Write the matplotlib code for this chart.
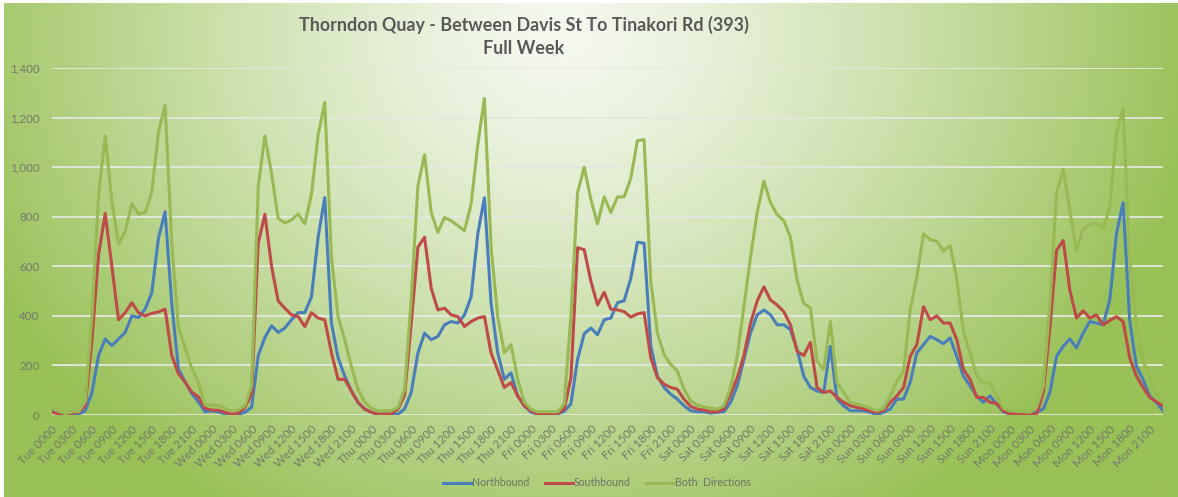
import matplotlib.pyplot as plt
import numpy as np
from matplotlib.colors import to_rgb

plt.rcParams['font.family'] = ['Lato', 'DejaVu Sans']

days = ['Tue', 'Wed', 'Thu', 'Fri', 'Sat', 'Sun', 'Mon']
hours = ['%02d00' % h for h in range(24)]
categories = ['%s %s' % (d, h) for d in days for h in hours]

# hourly vehicle counts, Tue 0000 .. Mon 2300
northbound = [
    17, 10, 5, 5, 3, 17, 90, 240, 307, 280, 307, 333, 400, 393, 427, 493, 713, 820, 450, 187, 133, 87, 53, 13,
    17, 12, 5, 3, 3, 11, 31, 240, 313, 360, 333, 351, 384, 413, 413, 477, 717, 877, 371, 231, 157, 97, 51, 24,
    11, 3, 3, 3, 3, 24, 91, 250, 330, 304, 317, 364, 377, 371, 404, 477, 731, 877, 450, 250, 144, 170, 77, 37,
    11, 3, 3, 3, 5, 15, 45, 224, 328, 351, 324, 384, 391, 453, 461, 551, 697, 693, 280, 157, 111, 84, 64, 37,
    17, 13, 13, 8, 11, 13, 51, 117, 224, 331, 404, 424, 404, 364, 364, 344, 264, 157, 111, 97, 91, 277, 64, 37,
    17, 17, 17, 11, 0, 11, 24, 64, 64, 131, 251, 284, 317, 304, 288, 311, 237, 157, 117, 77, 51, 77, 44, 13,
    4, 4, 4, 4, 11, 24, 91, 237, 277, 307, 271, 331, 377, 371, 364, 464, 731, 857, 380, 197, 144, 77, 51, 17,
]
southbound = [
    11, 5, 1, 8, 11, 38, 300, 647, 813, 600, 384, 413, 453, 413, 400, 410, 416, 427, 240, 167, 133, 93, 73, 27,
    20, 19, 11, 3, 7, 31, 85, 693, 810, 600, 460, 431, 404, 397, 357, 413, 391, 384, 251, 144, 144, 97, 51, 24,
    11, 4, 4, 5, 24, 80, 370, 677, 717, 511, 424, 431, 404, 397, 357, 377, 391, 397, 250, 180, 111, 131, 77, 37,
    17, 4, 4, 4, 7, 24, 150, 675, 667, 540, 444, 495, 427, 424, 417, 395, 408, 413, 231, 151, 124, 111, 104, 64,
    35, 24, 20, 13, 13, 24, 85, 150, 240, 370, 460, 517, 464, 444, 417, 364, 257, 240, 293, 111, 91, 97, 71, 51,
    37, 31, 24, 17, 11, 17, 51, 77, 111, 237, 284, 437, 384, 400, 371, 371, 304, 184, 144, 71, 71, 51, 47, 17,
    4, 4, 4, 4, 4, 91, 350, 664, 704, 504, 391, 421, 391, 404, 364, 381, 397, 377, 231, 157, 111, 71, 53, 37,
]
both_directions = [
    28, 15, 6, 13, 14, 55, 400, 887, 1126, 860, 690, 740, 853, 810, 817, 900, 1140, 1250, 690, 355, 270, 190, 130, 40,
    40, 38, 27, 17, 21, 38, 118, 920, 1126, 975, 793, 775, 787, 811, 771, 890, 1130, 1261, 637, 397, 304, 197, 104, 51,
    27, 17, 17, 17, 31, 104, 470, 924, 1050, 817, 737, 797, 784, 764, 744, 851, 1091, 1277, 677, 397, 251, 284, 144, 51,
    24, 13, 13, 13, 13, 45, 400, 897, 1000, 870, 771, 880, 817, 880, 880, 955, 1107, 1111, 540, 331, 244, 204, 177, 104,
    57, 40, 33, 27, 24, 37, 111, 237, 437, 637, 817, 944, 857, 808, 784, 717, 544, 451, 431, 217, 184, 377, 131, 91,
    51, 44, 37, 27, 17, 27, 77, 137, 177, 424, 557, 731, 707, 701, 661, 684, 551, 337, 251, 157, 131, 128, 77, 27,
    17, 15, 13, 11, 31, 117, 450, 897, 991, 824, 664, 751, 768, 773, 751, 837, 1137, 1237, 624, 357, 224, 144, 91, 50,
]

W, H = 1178, 497
fig = plt.figure(figsize=(W / 100, H / 100), dpi=100)
fig.patch.set_facecolor('white')

# radial green gradient behind the chart
bg = fig.add_axes([4 / W, 0, 1 - 4 / W, 1 - 3 / H], zorder=-2)
yy, xx = np.mgrid[0:H, 0:W]
d = np.sqrt(((xx - 560) / 640.0) ** 2 + ((yy - 30) / 560.0) ** 2)
t = np.clip(d, 0, 1)[..., None] ** 1.3
inner = np.array(to_rgb('#f5f9ef'))
outer = np.array(to_rgb('#98c157'))
bg.imshow(inner * (1 - t) + outer * t, aspect='auto', extent=[0, 1, 0, 1])
bg.axis('off')

ax = fig.add_axes([52 / W, 1 - 415 / H, (1163 - 52) / W, (415 - 68) / H])
ax.patch.set_alpha(0)
x = np.arange(len(categories))

ax.plot(x, northbound, color='#4a7ebb', lw=2.2, label='Northbound', zorder=3)
ax.plot(x, southbound, color='#be4b48', lw=2.2, label='Southbound', zorder=3)
ax.plot(x, both_directions, color='#98b954', lw=2.2, label='Both  Directions', zorder=3)

ax.set_xlim(0, len(categories) - 1)
ax.set_ylim(0, 1400)
ax.set_yticks(range(0, 1401, 200))
ax.set_yticklabels(['{:,}'.format(v) for v in range(0, 1401, 200)])
ax.grid(axis='y', color='#e4e8e0', lw=1.3, zorder=1)
ax.set_axisbelow(True)
for s in ax.spines.values():
    s.set_visible(False)
ax.tick_params(axis='both', length=0, colors='#737a6a', labelsize=8.3)
ax.tick_params(axis='y', pad=9)

ax.set_xticks(x[::3])
ax.set_xticklabels(categories[::3], rotation=45, ha='right', va='top',
                   rotation_mode='anchor', fontsize=8.3)
ax.tick_params(axis='x', pad=6)

fig.text(524 / W, 1 - 25 / H, 'Thorndon Quay - Between Davis St To Tinakori Rd (393)',
         ha='center', va='center', fontsize=12.9, fontweight='bold', color='#595959')
fig.text(524 / W, 1 - 48 / H, 'Full Week', ha='center', va='center',
         fontsize=12.9, fontweight='bold', color='#595959')

leg = fig.legend(loc='center', bbox_to_anchor=(597 / W, 1 - 483 / H), ncol=3,
                 frameon=False, fontsize=7.6, handlelength=2.6, columnspacing=1.5,
                 handletextpad=0.1)
for txt in leg.get_texts():
    txt.set_color('#6f7466')

fig.savefig('out.png', dpi=100)
